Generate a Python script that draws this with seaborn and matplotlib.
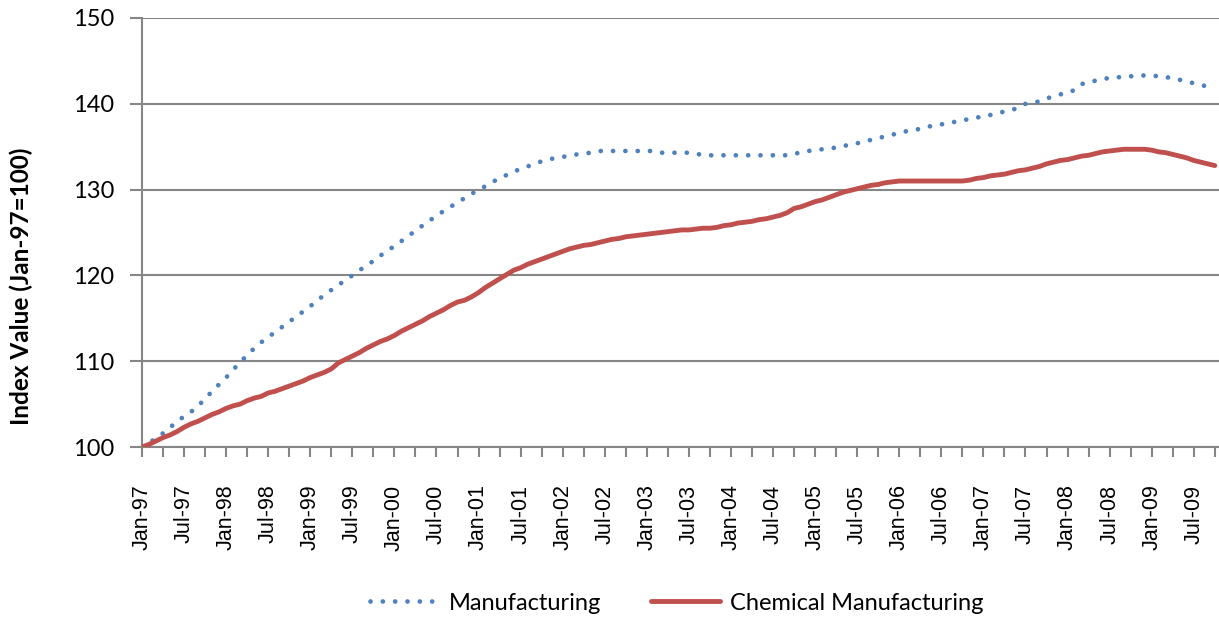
import pandas as pd
import seaborn as sns
import matplotlib.pyplot as plt
from matplotlib import transforms

# monthly index values, Jan-97 .. Oct-09 (Jan-97 = 100)
manufacturing = [
    100.0, 100.5, 101.0, 101.6, 102.3, 102.9, 103.6, 104.1, 104.8, 105.6, 106.5, 107.3,  # 1997
    108.1, 109.0, 109.9, 110.7, 111.5, 112.2, 112.8, 113.4, 114.0, 114.6, 115.2, 115.8,  # 1998
    116.4, 117.1, 117.7, 118.3, 118.9, 119.4, 120.0, 120.6, 121.1, 121.7, 122.3, 122.9,  # 1999
    123.4, 124.0, 124.6, 125.2, 125.8, 126.4, 126.9, 127.5, 128.0, 128.5, 129.0, 129.5,  # 2000
    130.0, 130.4, 130.9, 131.3, 131.7, 132.1, 132.4, 132.7, 133.0, 133.3, 133.5, 133.7,  # 2001
    133.8, 134.0, 134.1, 134.2, 134.3, 134.5, 134.5, 134.5, 134.5, 134.5, 134.5, 134.5,  # 2002
    134.5, 134.5, 134.3, 134.3, 134.3, 134.3, 134.3, 134.2, 134.0, 134.0, 134.0, 134.0,  # 2003
    134.0, 134.0, 134.0, 134.0, 134.0, 134.0, 134.0, 134.0, 134.0, 134.2, 134.3, 134.5,  # 2004
    134.6, 134.7, 134.8, 134.9, 135.1, 135.2, 135.4, 135.6, 135.8, 136.0, 136.2, 136.4,  # 2005
    136.6, 136.8, 136.9, 137.1, 137.3, 137.5, 137.6, 137.8, 137.9, 138.1, 138.2, 138.4,  # 2006
    138.5, 138.7, 138.9, 139.1, 139.3, 139.5, 140.0, 140.1, 140.3, 140.6, 140.9, 141.1,  # 2007
    141.3, 141.6, 142.3, 142.5, 142.7, 142.9, 143.0, 143.1, 143.1, 143.2, 143.3, 143.3,  # 2008
    143.3, 143.2, 143.1, 143.0, 142.8, 142.6, 142.4, 142.2, 142.0, 141.8,                # 2009
]

chemical = [
    100.0, 100.3, 100.7, 101.1, 101.4, 101.8, 102.3, 102.7, 103.0, 103.4, 103.8, 104.1,  # 1997
    104.5, 104.8, 105.0, 105.4, 105.7, 105.9, 106.3, 106.5, 106.8, 107.1, 107.4, 107.7,  # 1998
    108.1, 108.4, 108.7, 109.1, 109.8, 110.2, 110.6, 111.0, 111.5, 111.9, 112.3, 112.6,  # 1999
    113.0, 113.5, 113.9, 114.3, 114.7, 115.2, 115.6, 116.0, 116.5, 116.9, 117.1, 117.5,  # 2000
    118.0, 118.6, 119.1, 119.6, 120.1, 120.6, 120.9, 121.3, 121.6, 121.9, 122.2, 122.5,  # 2001
    122.8, 123.1, 123.3, 123.5, 123.6, 123.8, 124.0, 124.2, 124.3, 124.5, 124.6, 124.7,  # 2002
    124.8, 124.9, 125.0, 125.1, 125.2, 125.3, 125.3, 125.4, 125.5, 125.5, 125.6, 125.8,  # 2003
    125.9, 126.1, 126.2, 126.3, 126.5, 126.6, 126.8, 127.0, 127.3, 127.8, 128.0, 128.3,  # 2004
    128.6, 128.8, 129.1, 129.4, 129.7, 129.9, 130.1, 130.3, 130.5, 130.6, 130.8, 130.9,  # 2005
    131.0, 131.0, 131.0, 131.0, 131.0, 131.0, 131.0, 131.0, 131.0, 131.0, 131.1, 131.3,  # 2006
    131.4, 131.6, 131.7, 131.8, 132.0, 132.2, 132.3, 132.5, 132.7, 133.0, 133.2, 133.4,  # 2007
    133.5, 133.7, 133.9, 134.0, 134.2, 134.4, 134.5, 134.6, 134.7, 134.7, 134.7, 134.7,  # 2008
    134.6, 134.4, 134.3, 134.1, 133.9, 133.7, 133.4, 133.2, 133.0, 132.8,                # 2009
]

months = pd.date_range('1997-01-01', periods=len(manufacturing), freq='MS')
month_labels = [d.strftime('%b-%y') for d in months]

df = pd.DataFrame({
    'month': range(len(months)),
    'Manufacturing': manufacturing,
    'Chemical Manufacturing': chemical,
})

sns.set_style('white')
plt.rcParams['font.family'] = ['Lato', 'DejaVu Sans']
plt.rcParams['text.color'] = 'black'
plt.rcParams['xtick.labelcolor'] = 'black'
plt.rcParams['ytick.labelcolor'] = 'black'
plt.rcParams['axes.labelcolor'] = 'black'

fig = plt.figure(figsize=(12.19, 6.17), dpi=100)
ax = fig.add_axes([142 / 1219, 1 - 447 / 617, 1 - 142 / 1219, (447 - 18) / 617])

grey = '#868686'
blue = '#4F81BD'
red = '#C0504D'

sns.lineplot(data=df, x='month', y='Manufacturing', ax=ax, color=blue, lw=3.4,
             label='Manufacturing', zorder=3)
ax.lines[-1].set_linestyle((0, (0.01, 2.6)))
ax.lines[-1].set_dash_capstyle('round')
sns.lineplot(data=df, x='month', y='Chemical Manufacturing', ax=ax, color=red, lw=3.5,
             label='Chemical Manufacturing', zorder=3)

ax.set_xlim(0, 153.6)
ax.set_ylim(100, 150)
ax.set_yticks(range(100, 151, 10))
ax.grid(axis='y', color=grey, lw=1.5)
ax.set_axisbelow(True)

for s in ['top', 'right']:
    ax.spines[s].set_visible(False)
for s in ['left', 'bottom']:
    ax.spines[s].set_color(grey)
    ax.spines[s].set_linewidth(1.5)

ticks = list(range(0, len(months), 3))
ax.set_xticks(ticks)
ax.set_xticklabels([month_labels[i] if months[i].month in (1, 7) else '' for i in ticks],
                   rotation=90, family='Liberation Sans', fontsize=15.5)
offset = transforms.ScaledTranslation(5 / 100, 0, fig.dpi_scale_trans)
for lab in ax.get_xticklabels():
    lab.set_transform(lab.get_transform() + offset)

ax.tick_params(axis='x', direction='out', length=7, width=1.5, color=grey, pad=20, bottom=True)
ax.tick_params(axis='y', direction='out', length=9, width=1.5, color=grey, pad=11,
               left=True, labelsize=17)

ax.set_xlabel('')
ax.set_ylabel('Index Value (Jan-97=100)', fontsize=17.5, fontweight='bold')
ax.yaxis.set_label_coords(-109 / 1077, 161 / 429)

ax.legend_.remove()
handles, labels = ax.get_legend_handles_labels()
fig.legend(handles, labels, loc='center', bbox_to_anchor=(677 / 1219, 1 - 603 / 617),
           ncol=2, frameon=False, fontsize=17, handlelength=2.9, handletextpad=0.45,
           columnspacing=2.1)

fig.savefig('out.png', dpi=100)
